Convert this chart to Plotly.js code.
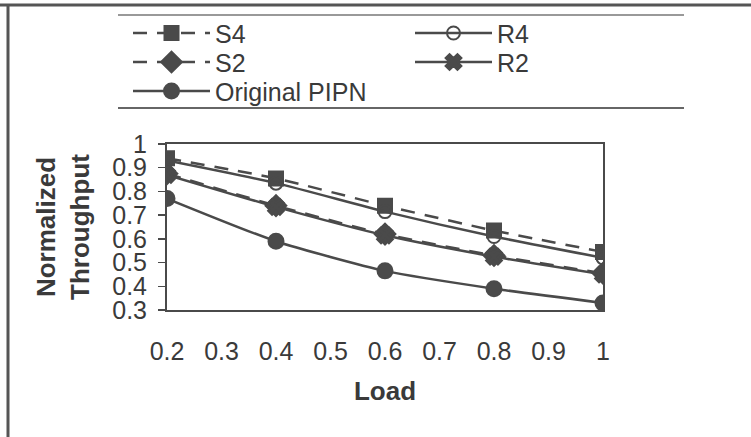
<!DOCTYPE html>
<html>
<head>
<meta charset="utf-8">
<script src="https://cdn.plot.ly/plotly-3.0.1.min.js"></script>
<style>html,body{margin:0;padding:0;background:#fff;}#chart{width:751px;height:437px;}</style>
</head>
<body>
<div id="chart"></div>
<script>
const load = [0.2, 0.4, 0.6, 0.8, 1];
const s4 = [0.94, 0.855, 0.74, 0.635, 0.545];
const r4 = [0.93, 0.835, 0.715, 0.61, 0.52];
const s2 = [0.875, 0.74, 0.62, 0.53, 0.455];
const r2 = [0.87, 0.735, 0.615, 0.525, 0.45];
const orig = [0.77, 0.59, 0.465, 0.39, 0.33];
const xTicks = [0.2, 0.3, 0.4, 0.5, 0.6, 0.7, 0.8, 0.9, 1];
const xTickText = ['0.2', '0.3', '0.4', '0.5', '0.6', '0.7', '0.8', '0.9', '1'];
const yTicks = [0.3, 0.4, 0.5, 0.6, 0.7, 0.8, 0.9, 1];
const yTickText = ['0.3', '0.4', '0.5', '0.6', '0.7', '0.8', '0.9', '1'];

const ink = '#4a4a4a';
const font = "'Liberation Sans', Arial, sans-serif";

function tr(name, y, dash, symbol, size, leg) {
  return {
    x: load, y: y, name: name, type: 'scatter', mode: 'lines+markers', legend: leg,
    line: {color: ink, width: 2.5, dash: dash, shape: 'spline', smoothing: 0.6},
    marker: {symbol: symbol, size: size, color: ink, line: {color: ink, width: 2}}
  };
}

const data = [
  tr('S4', s4, '14px,10px', 'square', 14, 'legend'),
  tr('S2', s2, '14px,10px', 'diamond', 16, 'legend'),
  tr('Original PIPN', orig, 'solid', 'circle', 15, 'legend'),
  tr('R4', r4, 'solid', 'circle-open', 13, 'legend2'),
  tr('R2', r2, 'solid', 'x', 14, 'legend2')
];

const legFont = {family: font, size: 25, color: '#3a3a3a'};
const legTop = (310 - 14) / 166;

const layout = {
  width: 751, height: 437,
  margin: {l: 167, r: 148, t: 144, b: 127},
  paper_bgcolor: '#fff', plot_bgcolor: '#fff',
  font: {family: font, size: 25, color: '#3a3a3a'},
  showlegend: true,
  legend: {
    x: (128 - 167) / 436, xanchor: 'left', y: legTop, yanchor: 'top',
    font: legFont, itemwidth: 77, bgcolor: 'rgba(0,0,0,0)', traceorder: 'normal'
  },
  legend2: {
    x: (410 - 167) / 436, xanchor: 'left', y: legTop, yanchor: 'top',
    font: legFont, itemwidth: 77, bgcolor: 'rgba(0,0,0,0)', traceorder: 'normal'
  },
  xaxis: {
    range: [0.2, 1], tickvals: xTicks, ticktext: xTickText,
    showline: true, linecolor: ink, linewidth: 2, mirror: true,
    ticks: '', showgrid: false, zeroline: false, ticklabelstandoff: 18,
    title: {text: '<b>Load</b>', font: {family: font, size: 26, color: '#3a3a3a'}, standoff: 18}
  },
  yaxis: {
    range: [0.3, 1], tickvals: yTicks, ticktext: yTickText,
    showline: true, linecolor: ink, linewidth: 2, mirror: true,
    ticks: 'outside', ticklen: 7, tickcolor: ink, tickwidth: 1.5,
    showgrid: false, zeroline: false, ticklabelstandoff: 6,
    title: {text: '<b>Normalized<br>Throughput</b>', font: {family: font, size: 26, color: '#3a3a3a'}, standoff: 15}
  },
  shapes: [
    {type: 'line', xref: 'paper', yref: 'paper', x0: -0.4, x1: 1.4, y0: (310 - 5) / 166, y1: (310 - 5) / 166, line: {color: '#555', width: 3}},
    {type: 'line', xref: 'paper', yref: 'paper', x0: (8 - 167) / 436, x1: (8 - 167) / 436, y0: -0.8, y1: (310 - 4) / 166, line: {color: '#555', width: 3}},
    {type: 'line', xref: 'paper', yref: 'paper', x0: (118 - 167) / 436, x1: (684 - 167) / 436, y0: (310 - 15) / 166, y1: (310 - 15) / 166, line: {color: '#777', width: 1.5}},
    {type: 'line', xref: 'paper', yref: 'paper', x0: (118 - 167) / 436, x1: (684 - 167) / 436, y0: (310 - 108) / 166, y1: (310 - 108) / 166, line: {color: '#666', width: 2}}
  ]
};

Plotly.newPlot('chart', data, layout, {displayModeBar: false, staticPlot: true}).then(function (gd) {
  // tighten legend row spacing to match the reference (29px per row)
  const legends = Array.from(gd.querySelectorAll('.infolayer > g')).filter(function (g) {
    return /^legend\d*$/.test((g.getAttribute('class') || '').split(' ')[0]);
  });
  legends.forEach(function (leg) {
    const items = leg.querySelectorAll('g.traces');
    items.forEach(function (g, i) {
      const m = /translate\(\s*([-\d.]+)[ ,]+([-\d.]+)\)/.exec(g.getAttribute('transform') || '');
      if (!m) return;
      const x = parseFloat(m[1]);
      g.setAttribute('transform', 'translate(' + x + ',' + (19 + i * 29) + ')');
    });
  });
});
</script>
</body>
</html>
